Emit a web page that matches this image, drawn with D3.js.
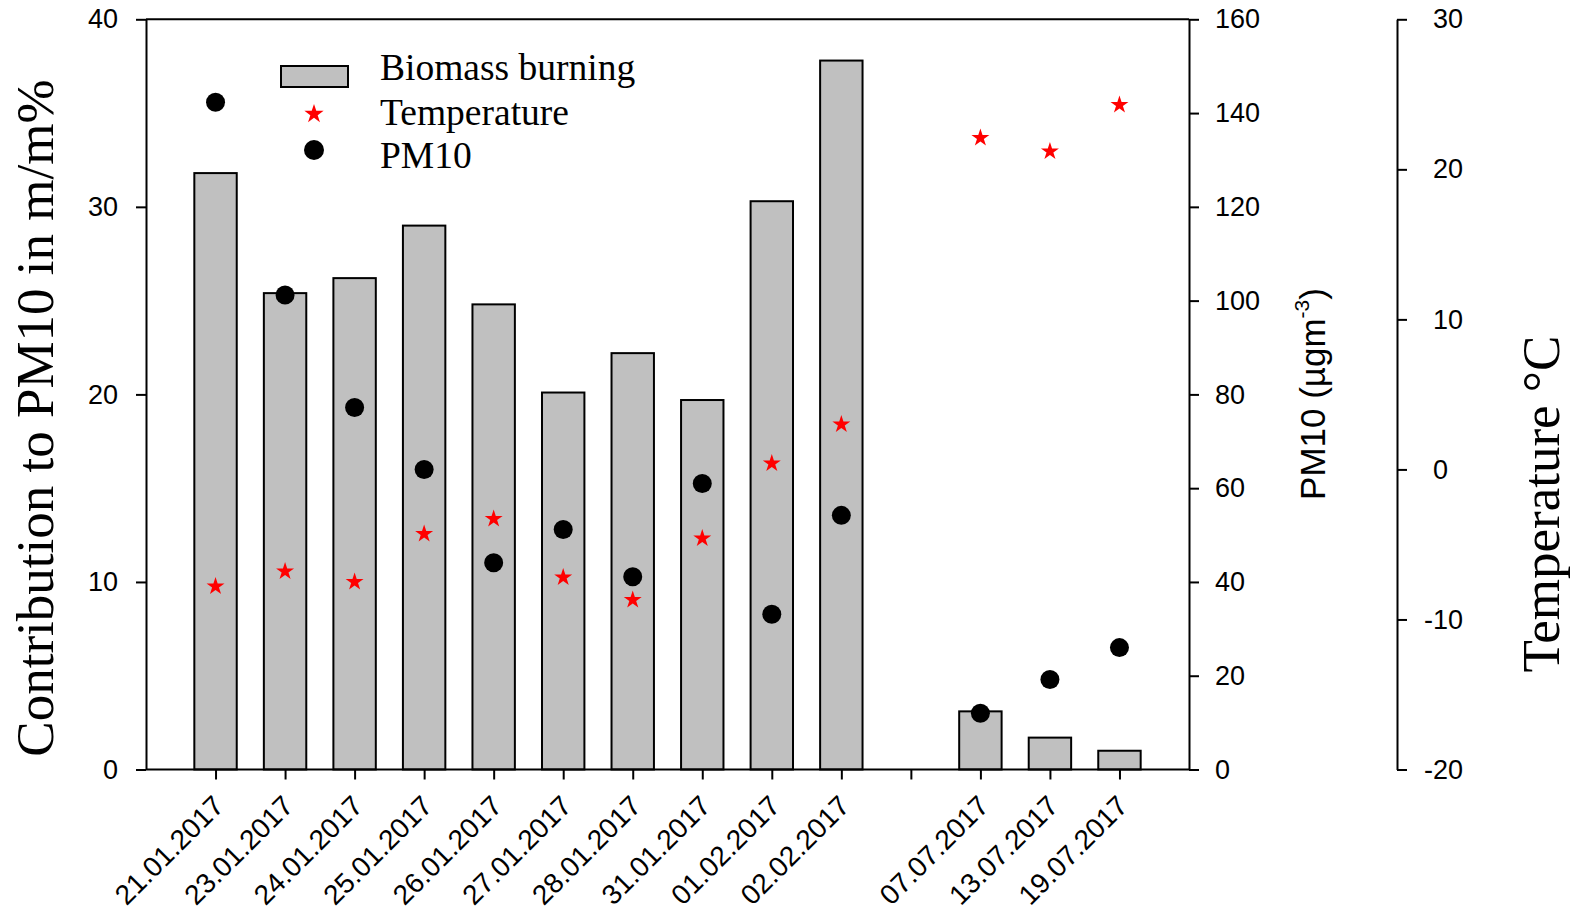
<!DOCTYPE html>
<html>
<head>
<meta charset="utf-8">
<script src="https://cdn.jsdelivr.net/npm/d3@7"></script>
<style>
  html, body { margin: 0; padding: 0; background: #fff; }
  svg { display: block; }
</style>
</head>
<body>
<svg id="chart" width="1579" height="911"></svg>
<script>
// Sampling dates (the empty entry separates the winter and summer campaigns)
const categories = ["21.01.2017","23.01.2017","24.01.2017","25.01.2017","26.01.2017",
  "27.01.2017","28.01.2017","31.01.2017","01.02.2017","02.02.2017","",
  "07.07.2017","13.07.2017","19.07.2017"];
// Biomass burning contribution to PM10 (m/m%)
const biomass = [31.8, 25.4, 26.2, 29.0, 24.8, 20.1, 22.2, 19.7, 30.3, 37.8, null, 3.1, 1.7, 1.0];
// PM10 concentration (µg m-3)
const pm10 = [142.3, 101.2, 77.2, 64.0, 44.1, 51.2, 41.1, 61.0, 33.1, 54.2, null, 12.0, 19.2, 26.0];
// Air temperature (°C)
const temperature = [-7.8, -6.8, -7.5, -4.3, -3.3, -7.2, -8.7, -4.6, 0.4, 3.0, null, 22.1, 21.2, 24.3];

const leftTicks = [0, 10, 20, 30, 40];
const pmTicks = [0, 20, 40, 60, 80, 100, 120, 140, 160];
const tempTicks = [-20, -10, 0, 10, 20, 30];

const svg = d3.select("#chart");
const sans = "'Liberation Sans', Arial, sans-serif";
const serif = "'Liberation Serif', 'Times New Roman', serif";

const plot = { left: 146, right: 1189, top: 19.3, bottom: 769.5 };
const tempAxisX = 1397;

const x = d3.scalePoint().domain(categories).range([plot.left, plot.right]).padding(1);
const yL = d3.scaleLinear().domain([0, 40]).range([plot.bottom, plot.top]);
const yPM = d3.scaleLinear().domain([0, 160]).range([plot.bottom, plot.top]);
const yT = d3.scaleLinear().domain([-20, 30]).range([plot.bottom, plot.top]);

const barW = x.step() * 0.61;

// Bars
svg.append("g").selectAll("rect")
  .data(categories.map((c, i) => ({ c, v: biomass[i] })).filter(d => d.v != null))
  .join("rect")
  .attr("x", d => x(d.c) - barW / 2)
  .attr("y", d => yL(d.v))
  .attr("width", barW)
  .attr("height", d => yL(0) - yL(d.v))
  .attr("fill", "#c0c0c0")
  .attr("stroke", "#000")
  .attr("stroke-width", 2);

// Axes
function styleAxis(g) {
  g.selectAll("path.domain").attr("stroke", "#000").attr("stroke-width", 2);
  g.selectAll(".tick line").attr("stroke", "#000").attr("stroke-width", 2);
  g.selectAll(".tick text").attr("fill", "#000").style("font-family", sans).style("font-size", "27px");
}

svg.append("g")
  .attr("transform", `translate(${plot.left},0)`)
  .call(d3.axisLeft(yL).tickValues(leftTicks).tickSize(10).tickSizeOuter(0).tickPadding(18).tickFormat(d => String(d)))
  .call(styleAxis);

svg.append("g")
  .attr("transform", `translate(${plot.right},0)`)
  .call(d3.axisRight(yPM).tickValues(pmTicks).tickSize(10).tickSizeOuter(0).tickPadding(16).tickFormat(d => String(d)))
  .call(styleAxis);

const tAxis = svg.append("g")
  .attr("transform", `translate(${tempAxisX},0)`)
  .call(d3.axisRight(yT).tickValues(tempTicks).tickSize(10).tickSizeOuter(0).tickPadding(26).tickFormat(d => String(d)))
  .call(styleAxis);
tAxis.selectAll(".tick text").attr("dx", d => d < 0 ? "-0.333em" : 0);

const xAxis = svg.append("g")
  .attr("transform", `translate(0,${plot.bottom})`)
  .call(d3.axisBottom(x).tickSize(10).tickSizeOuter(0).tickFormat(""))
  .call(styleAxis);
xAxis.select("path.domain").attr("d", `M${plot.left},0H${plot.right}`);

// Top frame line
svg.append("line")
  .attr("x1", plot.left).attr("x2", plot.right)
  .attr("y1", plot.top).attr("y2", plot.top)
  .attr("stroke", "#000").attr("stroke-width", 2);

// Rotated date labels
svg.append("g").selectAll("text")
  .data(categories.filter(c => c !== ""))
  .join("text")
  .attr("transform", d => `translate(${x(d) + 10},${807.5}) rotate(-45)`)
  .attr("text-anchor", "end")
  .style("font-family", sans)
  .style("font-size", "28px")
  .text(d => d);

// Temperature stars
const star = d3.symbol().type(d3.symbolStar).size(100);
svg.append("g").selectAll("path")
  .data(categories.map((c, i) => ({ c, v: temperature[i] })).filter(d => d.v != null))
  .join("path")
  .attr("transform", d => `translate(${x(d.c)},${yT(d.v)})`)
  .attr("d", star)
  .attr("fill", "#ff0000");

// PM10 dots
svg.append("g").selectAll("circle")
  .data(categories.map((c, i) => ({ c, v: pm10[i] })).filter(d => d.v != null))
  .join("circle")
  .attr("cx", d => x(d.c))
  .attr("cy", d => yPM(d.v))
  .attr("r", 9.5)
  .attr("fill", "#000");

// Axis titles
svg.append("text")
  .attr("transform", "translate(53,418) rotate(-90)")
  .attr("text-anchor", "middle")
  .style("font-family", serif)
  .style("font-size", "53px")
  .text("Contribution to PM10 in m/m%");

const pmTitle = svg.append("text")
  .attr("transform", "translate(1325,394) rotate(-90)")
  .attr("text-anchor", "middle")
  .style("font-family", sans)
  .style("font-size", "35px");
pmTitle.append("tspan").text("PM10 (µgm");
pmTitle.append("tspan").attr("dy", -16).style("font-size", "21px").text("-3");
pmTitle.append("tspan").attr("dy", 16).text(")");

svg.append("text")
  .attr("transform", "translate(1559,504) rotate(-90)")
  .attr("text-anchor", "middle")
  .style("font-family", serif)
  .style("font-size", "53px")
  .text("Temperature °C");

// Legend
const legend = svg.append("g");
legend.append("rect")
  .attr("x", 281).attr("y", 66).attr("width", 67).attr("height", 21)
  .attr("fill", "#c0c0c0").attr("stroke", "#000").attr("stroke-width", 2);
legend.append("path")
  .attr("transform", "translate(314,114)")
  .attr("d", d3.symbol().type(d3.symbolStar).size(115))
  .attr("fill", "#ff0000");
legend.append("circle").attr("cx", 314).attr("cy", 150).attr("r", 10).attr("fill", "#000");
const legendLabels = ["Biomass burning", "Temperature", "PM10"];
const legendBaselines = [80, 125, 168];
legend.selectAll("text")
  .data(legendLabels)
  .join("text")
  .attr("x", 380)
  .attr("y", (d, i) => legendBaselines[i])
  .style("font-family", serif)
  .style("font-size", "37.5px")
  .text(d => d);
</script>
</body>
</html>
